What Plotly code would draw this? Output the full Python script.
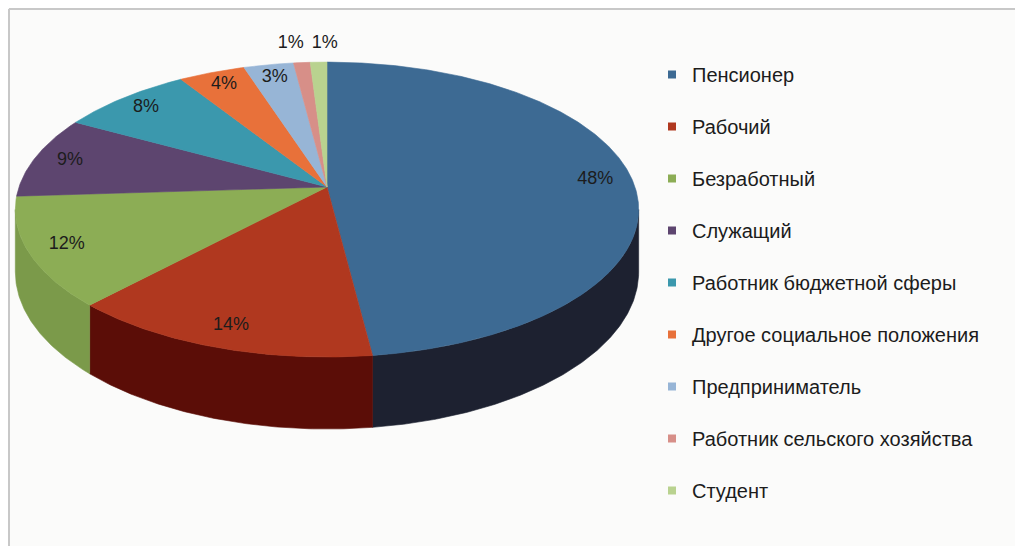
import numpy as np
import plotly.graph_objects as go

# ---- data ----
categories = [
    "Пенсионер",
    "Рабочий",
    "Безработный",
    "Служащий",
    "Работник бюджетной сферы",
    "Другое социальное положения",
    "Предприниматель",
    "Работник сельского хозяйства",
    "Студент",
]
shares = [48, 14, 12, 9, 8, 4, 3, 1, 1]

# ---- style ----
top_colors = ["#3d6a93", "#b0381f", "#8cad55", "#5d456f", "#3b98ad",
              "#e8713a", "#97b5d6", "#d78f88", "#b9d28f"]
side_colors = ["#1d2130", "#5b0d07", "#7b9a4a", "#3f2e4c", "#2a6b7a",
               "#a34f28", "#6a7f97", "#96645f", "#82935f"]

OFF = 8                      # page body margin
W, H_FIG = 1023 - OFF, 546 - OFF
CX, CY = 327.0, 187.0        # projected pie centre (screen px)
RA, RB = 308.0, 144.0        # horizontal / depth radii (px)
KP = 0.153                   # perspective strength
DEPTH = 61.0                 # pie thickness (px)
LABEL_R_IN = 0.88
LABEL_R_OUT = 1.18
MIN_SEP = 34.0


def project(r, phi_deg, bottom=0.0):
    phi = np.radians(phi_deg)
    X = r * np.sin(phi)
    Y = r * np.cos(phi)
    w = 1.0 + KP * Y
    x = CX + RA * X / w
    y = CY + (-RB * Y + DEPTH * bottom) / w
    return x, y


vals = np.array(shares, dtype=float)
frac = vals / vals.sum()
ends = np.cumsum(frac) * 360.0
starts = ends - frac * 360.0

sil_lo = np.degrees(np.arccos(-KP))
sil_hi = 360.0 - sil_lo

fig = go.Figure()

# side walls
for i, cat in enumerate(categories):
    a0, a1 = max(starts[i], sil_lo), min(ends[i], sil_hi)
    if a1 <= a0:
        continue
    n = max(3, int((a1 - a0) / 0.5) + 2)
    ang = np.linspace(a0, a1, n)
    xt, yt = project(1.0, ang, 0.0)
    xb, yb = project(1.0, ang[::-1], 1.0)
    fig.add_trace(go.Scatter(
        x=np.concatenate([xt, xb, xt[:1]]), y=np.concatenate([yt, yb, yt[:1]]),
        mode="lines", fill="toself", fillcolor=side_colors[i],
        line=dict(color=side_colors[i], width=0.6),
        legendgroup=cat, showlegend=False, hoverinfo="skip"))

# top faces
for i, cat in enumerate(categories):
    n = max(3, int((ends[i] - starts[i]) / 0.5) + 2)
    ang = np.linspace(starts[i], ends[i], n)
    xa, ya = project(1.0, ang, 0.0)
    xc, yc = project(0.0, 0.0, 0.0)
    fig.add_trace(go.Scatter(
        x=np.concatenate([[xc], xa, [xc]]), y=np.concatenate([[yc], ya, [yc]]),
        mode="lines", fill="toself", fillcolor=top_colors[i],
        line=dict(color=top_colors[i], width=0.6),
        legendgroup=cat, showlegend=False, name=cat,
        hoverinfo="text", text=f"{cat}: {shares[i]}%"))

# data labels
mids = (starts + ends) / 2.0
lx, ly, lt = [], [], []
for i in range(len(categories)):
    r = LABEL_R_OUT if frac[i] < 0.02 else LABEL_R_IN
    x, y = project(r, mids[i], 0.0)
    lx.append(float(x)); ly.append(float(y)); lt.append(f"{shares[i]}%")
out_idx = [i for i in range(len(categories)) if frac[i] < 0.02]
for a, b in zip(out_idx[:-1], out_idx[1:]):
    d = lx[b] - lx[a]
    if abs(d) < MIN_SEP:
        c = (lx[a] + lx[b]) / 2.0
        lx[a], lx[b] = c - MIN_SEP / 2.0, c + MIN_SEP / 2.0

fig.add_trace(go.Scatter(
    x=lx, y=ly, text=lt, mode="text", textposition="middle center",
    textfont=dict(family="Liberation Sans, Arial, sans-serif", size=18, color="#1c1c1c"),
    showlegend=False, hoverinfo="skip"))

# legend entries
for i, cat in enumerate(categories):
    fig.add_trace(go.Scatter(
        x=[None], y=[None], mode="markers", name=cat, legendgroup=cat,
        marker=dict(symbol="square", size=8, color=top_colors[i])))

fig.update_layout(
    width=W, height=H_FIG,
    margin=dict(l=0, r=0, t=0, b=0),
    paper_bgcolor="#fbfbfa", plot_bgcolor="#fbfbfa",
    xaxis=dict(range=[OFF, OFF + W], visible=False, fixedrange=True),
    yaxis=dict(range=[OFF + H_FIG, OFF], visible=False, fixedrange=True),
    showlegend=True,
    legend=dict(
        x=644 / W, xanchor="left", y=1 - 47 / H_FIG, yanchor="top",
        font=dict(family="Liberation Sans, Arial, sans-serif", size=20, color="#1c1c1c"),
        tracegroupgap=23, bgcolor="rgba(0,0,0,0)", itemclick=False,
    ),
    shapes=[
        dict(type="line", xref="x", yref="y", x0=9, x1=9, y0=9, y1=OFF + H_FIG,
             line=dict(color="#c8c8c8", width=2)),
        dict(type="line", xref="x", yref="y", x0=9, x1=OFF + W, y0=9, y1=9,
             line=dict(color="#c8c8c8", width=2)),
    ],
)

fig.write_html("out.html")
